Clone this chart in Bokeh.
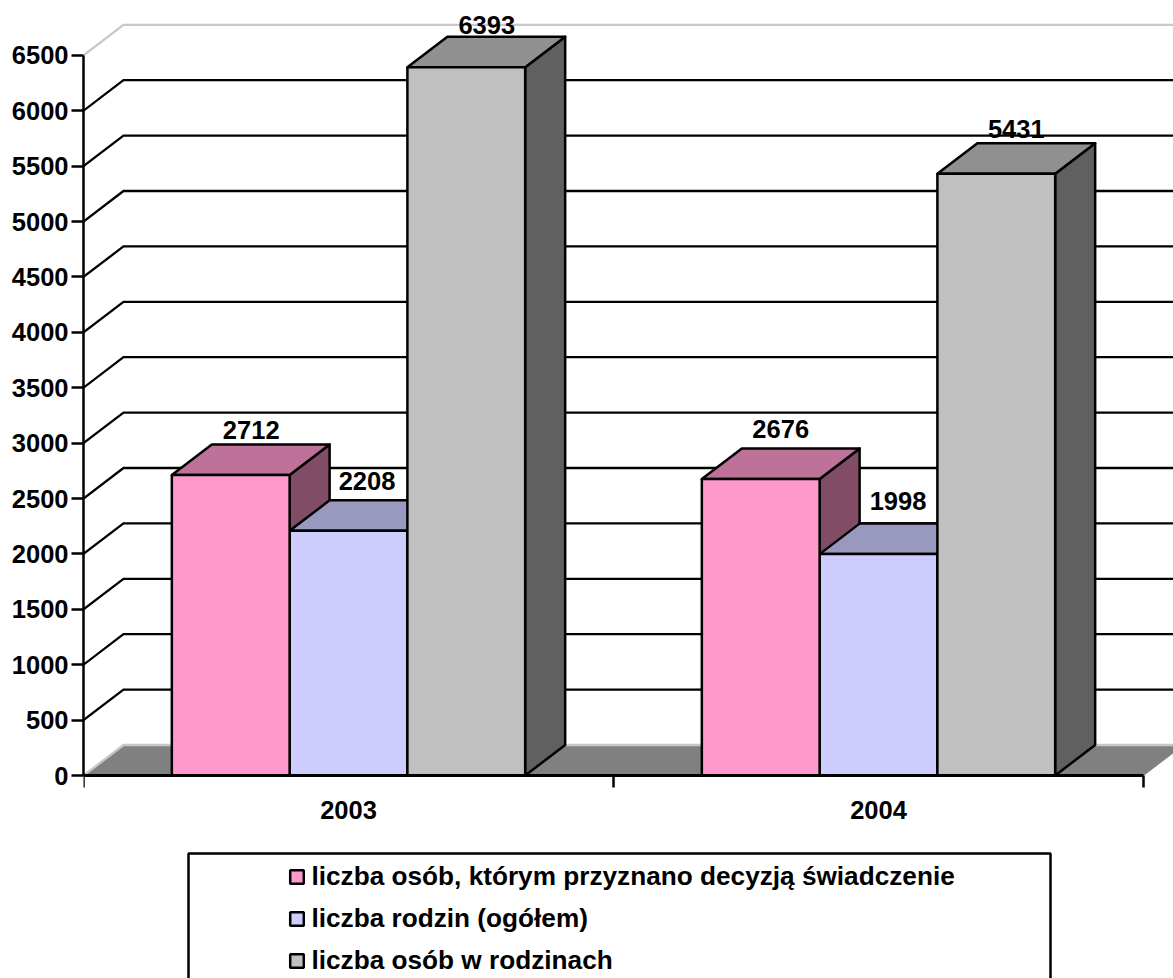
from bokeh.plotting import figure
from bokeh.embed import file_html
from bokeh.resources import INLINE
from bokeh.core.properties import value
from bokeh.models import Range1d, FixedTicker, Legend, LegendItem, BoxAnnotation

years = ["2003", "2004"]
series_names = ["liczba osób, którym przyznano decyzją świadczenie",
                "liczba rodzin (ogółem)",
                "liczba osób w rodzinach"]
osoby_decyzja = [2712, 2676]
rodziny = [2208, 1998]
osoby_w_rodzinach = [6393, 5431]
y_ticks = list(range(0, 7000, 500))

front_colors = ["#FF99CC", "#CCCCFF", "#C0C0C0"]
top_colors = ["#BF7299", "#9999BF", "#909090"]
side_colors = ["#804C66", "#666680", "#606060"]

# pixel geometry of the page
X0, UX = 83.0, 530.0      # px of x=0, px per category
Y0, UY = 775.0, 0.1108    # px of y=0, px per unit
W, H = 1173, 978
DX = 40 / UX
DY = 30.5 / UY
BAR = 1 / 4.5
GAP = 0.75 * BAR
FONT = "Liberation Sans"
FS = "25.5px"
LW = 2.5

p = figure(width=W, height=H, output_backend="svg", toolbar_location=None,
           x_range=Range1d(0, (W - X0) / UX),
           y_range=Range1d((Y0 - H) / UY, Y0 / UY),
           min_border_left=int(X0), min_border_right=0, min_border_top=0,
           min_border_bottom=0, outline_line_color=None,
           background_fill_color="white", border_fill_color="white")
p.grid.visible = False

xmax = p.x_range.end + 0.1

# floor
p.patch([0, DX, 2 + DX, 2], [0, DY, DY, 0], fill_color="#808080", line_color="#808080", line_width=1)

# walls' grid lines
for v in y_ticks:
    c = "#C8C8C8" if v in (y_ticks[0], y_ticks[-1]) else "black"
    p.line([0, DX, xmax], [v, v + DY, v + DY], line_color=c, line_width=2.3, line_join="miter")

series = [osoby_decyzja, rodziny, osoby_w_rodzinach]
fronts = {}


def lefts_of(s):
    return [i + GAP + s * BAR for i in range(len(series[s]))]


def box_3d(s):
    vals = series[s]
    lefts = lefts_of(s)
    rights = [l + BAR for l in lefts]
    p.patches([[r, r + DX, r + DX, r] for r in rights],
              [[0, DY, v + DY, v] for v in vals],
              fill_color=side_colors[s], line_color="black", line_width=LW, line_join="round")
    p.patches([[l, l + DX, r + DX, r] for l, r in zip(lefts, rights)],
              [[v, v + DY, v + DY, v] for v in vals],
              fill_color=top_colors[s], line_color="black", line_width=LW, line_join="round")


def front(s):
    lefts = lefts_of(s)
    fronts[s] = p.quad(left=lefts, right=[l + BAR for l in lefts], bottom=0, top=series[s],
                       fill_color=front_colors[s], line_color="black", line_width=LW)


box_3d(0)
box_3d(1)
front(1)
front(0)
box_3d(2)
front(2)

# value labels (small nudges as in the original's hand placed labels)
label_dx = [[20.5, 20], [18.5, 19.5], [20.5, 20]]
label_dy = [[-45.5, -49.5], [-49.5, -53.6], [-42, -45]]
for s in range(3):
    for i, v in enumerate(series[s]):
        p.text([i + GAP + (s + 0.5) * BAR], [v], text=[str(v)],
               x_offset=label_dx[s][i], y_offset=label_dy[s][i],
               text_align="center", text_baseline="middle",
               text_font=value(FONT), text_font_style="bold", text_font_size=FS, text_color="black")

# axes
ya = p.yaxis[0]
ya.ticker = FixedTicker(ticks=y_ticks)
ya.bounds = (0, y_ticks[-1])
ya.axis_line_color = "black"; ya.axis_line_width = LW
ya.major_tick_line_color = "black"; ya.major_tick_line_width = LW
ya.major_tick_out = 12; ya.major_tick_in = 0
ya.minor_tick_line_color = None
ya.major_label_standoff = 3
ya.major_label_text_font = FONT; ya.major_label_text_font_style = "bold"
ya.major_label_text_font_size = FS; ya.major_label_text_color = "black"

xa = p.xaxis[0]
xa.fixed_location = 0
xa.ticker = FixedTicker(ticks=[i + 0.5 for i in range(len(years))], minor_ticks=[0, 1, 2])
xa.major_label_overrides = {i + 0.5: y for i, y in enumerate(years)}
xa.bounds = (0, 2)
xa.axis_line_color = "black"; xa.axis_line_width = 3
xa.major_tick_line_color = None
xa.major_tick_out = 0; xa.major_tick_in = 0
xa.minor_tick_line_color = "black"; xa.minor_tick_line_width = LW
xa.minor_tick_out = 12; xa.minor_tick_in = 0
xa.major_label_standoff = 13
xa.major_label_text_font = FONT; xa.major_label_text_font_style = "bold"
xa.major_label_text_font_size = FS; xa.major_label_text_color = "black"

# legend
box = BoxAnnotation(left=188, right=1050, top=853, bottom=H + 20,
                    left_units="canvas", right_units="canvas", top_units="canvas", bottom_units="canvas",
                    fill_color=None, line_color="black", line_alpha=1.0, line_width=LW)
p.add_layout(box)

legend = Legend(items=[LegendItem(label=series_names[i], renderers=[fronts[i]]) for i in range(3)],
                location=(287.5 - X0, 2), orientation="vertical",
                padding=0, margin=0, spacing=11, glyph_width=17, glyph_height=17, label_height=30,
                label_standoff=7, label_text_font=FONT, label_text_font_style="bold",
                label_text_font_size="26.2px", label_text_color="black",
                background_fill_alpha=0, border_line_color=None)
p.add_layout(legend)

open("out.html", "w").write(file_html(p, INLINE))
